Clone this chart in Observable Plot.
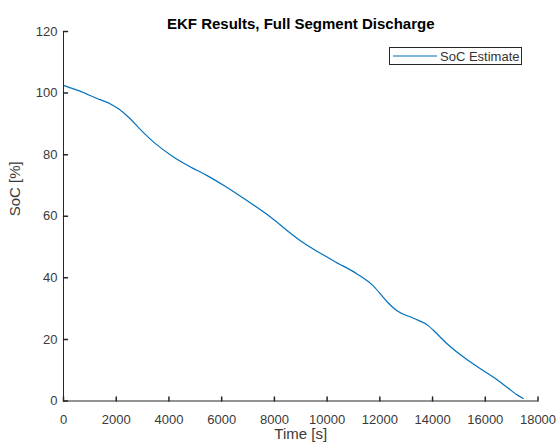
<!DOCTYPE html>
<html>
<head>
<meta charset="utf-8">
<script src="https://cdn.jsdelivr.net/npm/d3@7"></script>
<script src="https://cdn.jsdelivr.net/npm/@observablehq/plot@0.6"></script>
<style>
  body { margin: 0; background: #fff; }
  #wrap { position: relative; width: 557px; height: 447px; font-family: "Liberation Sans", Arial, sans-serif; }
  #legend {
    position: absolute; left: 389px; top: 47px; width: 131px; height: 16px;
    border: 1px solid #262626; background: #fff; box-sizing: content-box;
    display: flex; align-items: center; font-size: 13px; color: #333;
  }
  #legend svg { margin-left: 3px; margin-right: 3px; }
</style>
</head>
<body>
<div id="wrap"></div>
<script>
// EKF state-of-charge estimate over a full segment discharge
const time = [0, 600, 1200, 1800, 2100, 2500, 2900, 3500, 4200, 4800, 5450, 6100, 6700, 7700, 9000, 10250, 11150, 11750, 12300, 12650, 13300, 13850, 14050, 14550, 15200, 15700, 16300, 16850, 17200, 17440];
const soc  = [102.5, 100.7, 98.5, 96.4, 94.8, 91.9, 88.3, 83.5, 79.1, 76.1, 73.2, 69.9, 66.6, 60.7, 52.0, 45.5, 41.2, 37.4, 32.0, 29.3, 26.8, 24.4, 22.8, 18.6, 14.1, 11.1, 7.8, 4.3, 2.0, 0.8];

const xTicks = [0, 2000, 4000, 6000, 8000, 10000, 12000, 14000, 16000, 18000];
const yTicks = [0, 20, 40, 60, 80, 100, 120];

const titleText = "EKF Results, Full Segment Discharge";
const xLabel = "Time [s]";
const yLabel = "SoC [%]";
const seriesName = "SoC Estimate";

const lineColor = "#0072BD";
const axisColor = "#262626";
const labelColor = "#3a3a3a";

const data = time.map((t, i) => ({t, soc: soc[i]}));

// short inward tick, drawn by a vector mark
const tickShape = { draw(context, l) { context.moveTo(0, 0); context.lineTo(0, -l); } };

const chart = Plot.plot({
  width: 557,
  height: 447,
  marginLeft: 63,
  marginRight: 19.5,
  marginTop: 31,
  marginBottom: 46.5,
  style: { fontFamily: "'Liberation Sans', Arial, sans-serif", fontSize: "13px", color: labelColor, background: "#fff" },
  x: { domain: [0, 18000] },
  y: { domain: [0, 120] },
  marks: [
    Plot.line(data, { x: "t", y: "soc", stroke: lineColor, strokeWidth: 1.2, curve: "monotone-x" }),
    Plot.ruleY([0], { stroke: axisColor }),
    Plot.ruleX([0], { stroke: axisColor }),
    Plot.vector(xTicks, { x: d => d, y: 0, length: 4, rotate: 0, anchor: "start", shape: tickShape, stroke: axisColor }),
    Plot.vector(yTicks, { x: 0, y: d => d, length: 4, rotate: 90, anchor: "start", shape: tickShape, stroke: axisColor }),
    Plot.axisX(xTicks, { tickSize: 0, tickPadding: 14, tickFormat: d => String(d), label: null, fill: labelColor }),
    Plot.axisY(yTicks, { tickSize: 0, tickPadding: 6, tickFormat: d => String(d), label: null, fill: labelColor }),
    Plot.text([xLabel], { frameAnchor: "bottom", dy: 38, text: d => d, fontSize: 15, fill: labelColor }),
    Plot.text([yLabel], { frameAnchor: "left", dx: -48, rotate: -90, text: d => d, fontSize: 15, fill: labelColor }),
    Plot.text([titleText], { frameAnchor: "top", dy: -13, text: d => d, fontSize: 15, fontWeight: "bold", fill: "#000" })
  ]
});

const wrap = document.getElementById("wrap");
wrap.appendChild(chart);

const legend = document.createElement("div");
legend.id = "legend";
legend.innerHTML = `<svg width="44" height="4"><line x1="0" y1="2" x2="44" y2="2" stroke="${lineColor}" stroke-width="1.2"/></svg><span>${seriesName}</span>`;
wrap.appendChild(legend);
</script>
</body>
</html>
